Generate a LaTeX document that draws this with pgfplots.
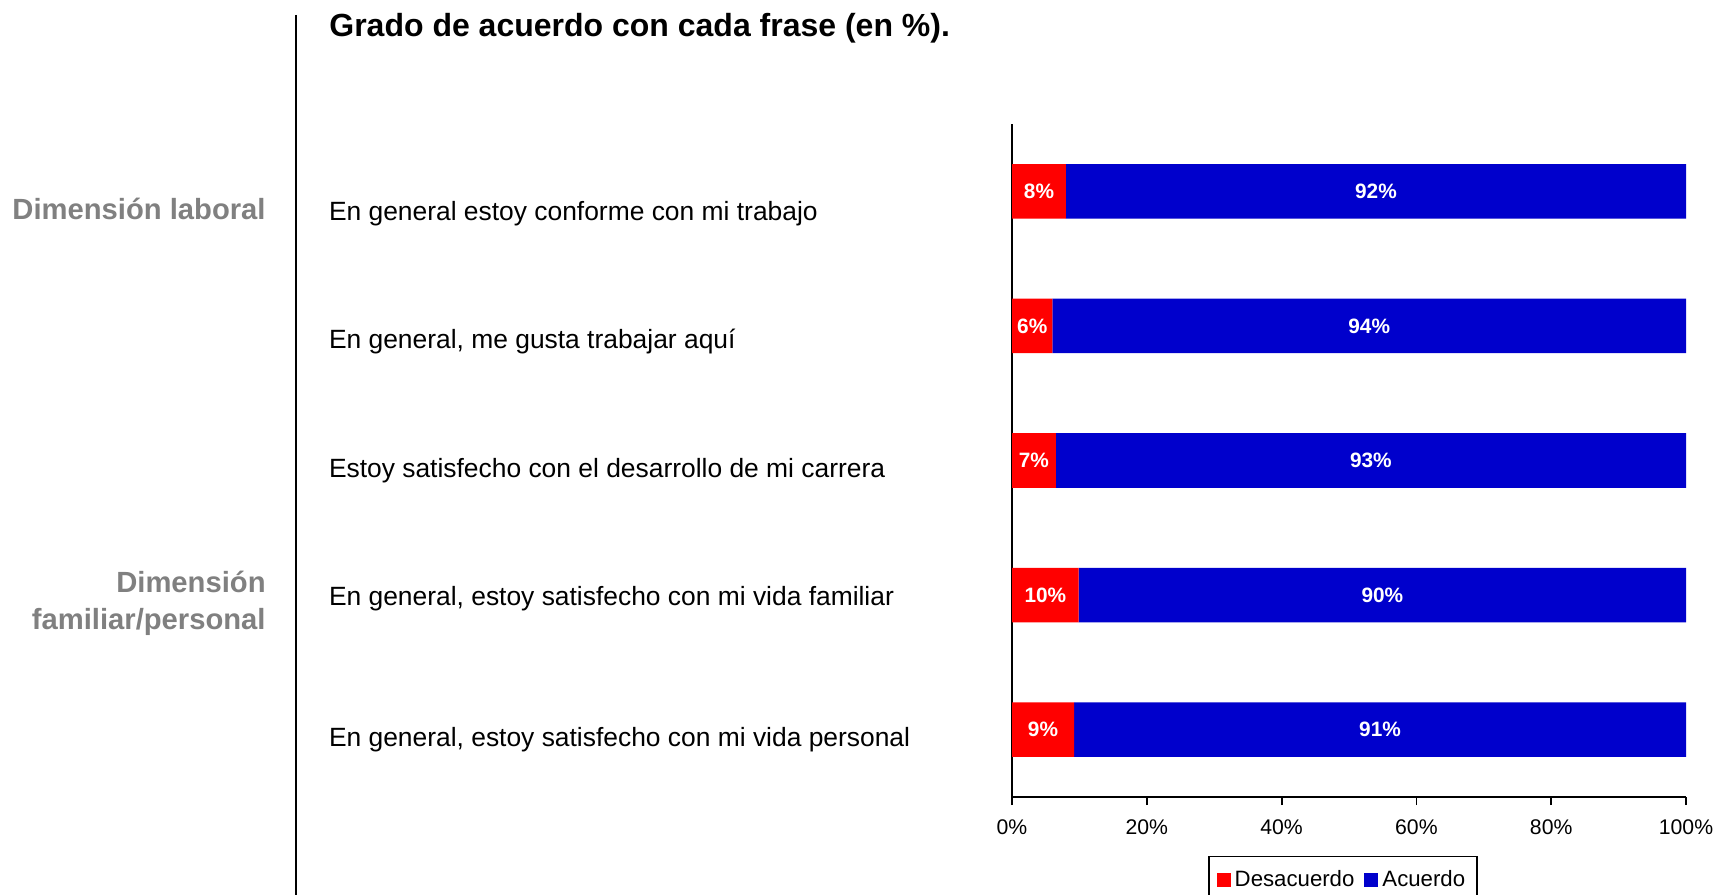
\documentclass[border=0pt]{standalone}
\usepackage{fontspec}
\setmainfont{Liberation Sans}
\usepackage{pgfplots}
\usepackage{pgfplotstable}
\pgfplotsset{compat=1.18}
\definecolor{cred}{HTML}{FF0000}
\definecolor{cblue}{HTML}{0000CC}
\definecolor{cgray}{HTML}{808080}
\pgfplotstableread{
y r b rl bl
5 8 92 8 92
4 6 94 6 94
3 6.5 93.5 7 93
2 9.9 90.1 10 90
1 9.2 90.8 9 91
}\data
\begin{document}
\begin{tikzpicture}
\useasboundingbox (0pt,0pt) rectangle (857.5pt,447.5pt);
\draw[line width=1pt] (148pt,440pt) -- (148pt,-2pt);
\node[anchor=base west, font=\bfseries\fontsize{16}{19}\selectfont, inner sep=0pt] at (164.5pt,429.2pt) {Grado de acuerdo con cada frase (en \%).};
\begin{scope}[every node/.style={anchor=base west, inner sep=0pt, font=\fontsize{13.2}{16}\selectfont}]
\node at (164.3pt,337.35pt) {En general estoy conforme con mi trabajo};
\node at (164.3pt,273.35pt) {En general, me gusta trabajar aquí};
\node at (164.3pt,208.85pt) {Estoy satisfecho con el desarrollo de mi carrera};
\node at (164.3pt,144.85pt) {En general, estoy satisfecho con mi vida familiar};
\node at (164.3pt,74.35pt) {En general, estoy satisfecho con mi vida personal};
\end{scope}
\begin{scope}[every node/.style={anchor=base east, inner sep=0pt, text=cgray, font=\bfseries\fontsize{14.6}{17}\selectfont}]
\node at (133pt,337.85pt) {Dimensión laboral};
\node at (133pt,151.3pt) {Dimensión};
\node at (133pt,132.8pt) {familiar/personal};
\end{scope}
\begin{axis}[
  at={(506pt,49pt)}, anchor=south west,
  scale only axis, width=337pt, height=336.5pt,
  xbar stacked, bar width=0.405,
  xmin=0, xmax=100, ymin=0.5, ymax=5.5,
  axis x line*=bottom, axis y line*=left,
  axis line style={line width=0.9pt, black},
  ytick=\empty,
  xtick={0,20,...,100},
  xticklabel={\pgfmathprintnumber{\tick}\%},
  /pgf/number format/assume math mode=true,
  tick align=outside, major tick length=4pt,
  tick style={line width=0.9pt, black},
  x tick label style={font=\fontsize{10.6}{12}\selectfont, yshift=-4pt},
  legend columns=2,
  legend style={at={(0.491,-0.087)}, anchor=north, draw=black, line width=0.9pt,
    font=\fontsize{11.1}{13}\selectfont, inner xsep=4pt, inner ysep=5pt,
    /tikz/every even column/.append style={column sep=3pt}},
  legend image code/.code={\fill[#1] (0pt,-3.5pt) rectangle (7pt,3.5pt);},
]
\addplot[fill=cred, draw=none] table[x=r, y=y] {\data};
\addplot[fill=cblue, draw=none] table[x=b, y=y] {\data};
\legend{Desacuerdo, Acuerdo}
\end{axis}
\begin{axis}[
  at={(506pt,49pt)}, anchor=south west,
  scale only axis, width=337pt, height=336.5pt,
  xmin=0, xmax=100, ymin=0.5, ymax=5.5, hide axis,
  point meta=explicit symbolic,
  nodes near coords={\pgfplotspointmeta\%},
  nodes near coords style={anchor=center, text=white, font=\bfseries\fontsize{10.4}{12}\selectfont},
]
\addplot[draw=none] table[x expr=\thisrow{r}/2, y=y, meta=rl] {\data};
\addplot[draw=none] table[x expr=\thisrow{r}+\thisrow{b}/2, y=y, meta=bl] {\data};
\end{axis}
\end{tikzpicture}
\end{document}
